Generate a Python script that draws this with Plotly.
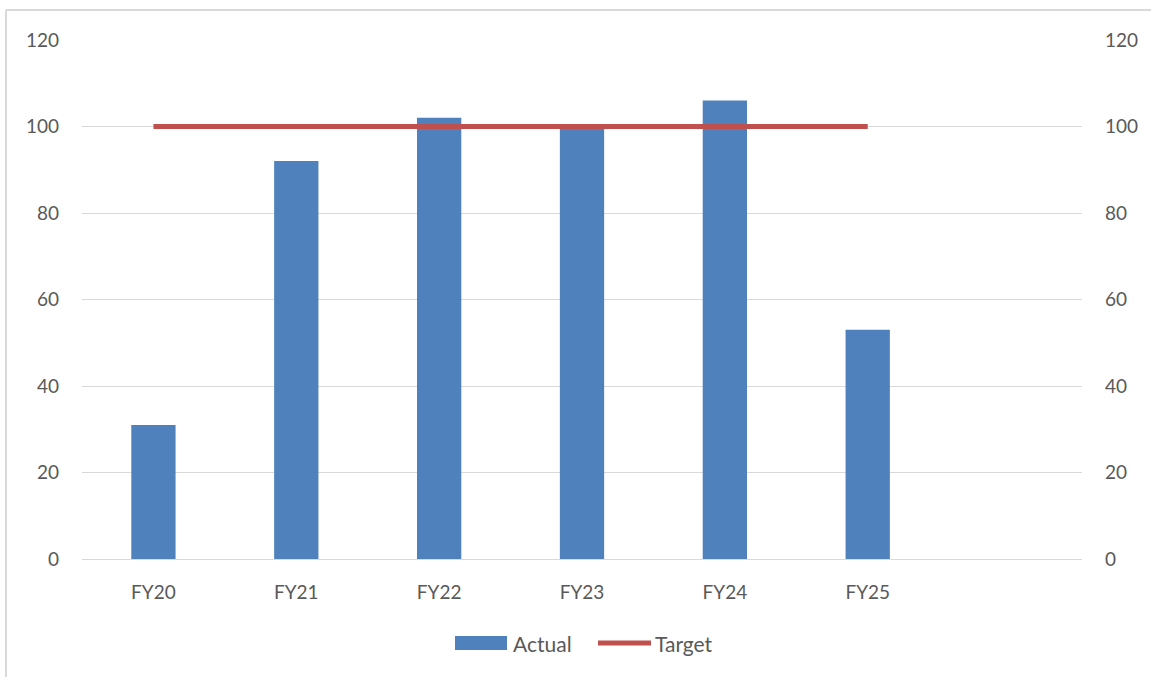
import plotly.graph_objects as go

categories = ["FY20", "FY21", "FY22", "FY23", "FY24", "FY25", " "]
actual = [31, 92, 102, 100, 106, 53]
target = [100, 100, 100, 100, 100, 100]
y_ticks = [0, 20, 40, 60, 80, 100, 120]
series_names = ["Actual", "Target"]

FONT = "Lato, 'Open Sans', sans-serif"
GREY = "#595959"
BAR_C = "#4F81BD"
LINE_C = "#C0504D"
FS = 19
LEG_FS = 21

fig = go.Figure()
fig.add_trace(go.Bar(
    x=categories[:len(actual)], y=actual, name=series_names[0],
    marker=dict(color=BAR_C, line=dict(width=0)),
    width=0.31, showlegend=False,
))
fig.add_trace(go.Scatter(
    x=categories[:len(target)], y=target, name=series_names[1], yaxis="y2",
    mode="lines", line=dict(color=LINE_C, width=5), showlegend=False,
))

axis_common = dict(
    range=[0, 120], tickvals=y_ticks, ticks="", showline=False,
    tickfont=dict(family=FONT, size=FS, color=GREY),
    zeroline=False, fixedrange=True,
)

# legend drawn manually (paper coords: plot area 82..1082 x, 40..559 y)
def px(x):
    return (x - 82) / 1000.0

def py(y):
    return (559 - y) / 519.0

legend_y = py(643)
shapes = [
    dict(type="line", xref="paper", yref="paper", x0=px(6), x1=px(1160),
         y0=py(10), y1=py(10), line=dict(color="#D9D9D9", width=2)),
    dict(type="line", xref="paper", yref="paper", x0=px(6), x1=px(6),
         y0=py(10), y1=py(700), line=dict(color="#D9D9D9", width=2)),
    dict(type="rect", xref="paper", yref="paper", x0=px(455), x1=px(507),
         y0=py(650), y1=py(636), fillcolor=BAR_C, line=dict(width=0)),
    dict(type="line", xref="paper", yref="paper", x0=px(598), x1=px(651),
         y0=legend_y, y1=legend_y, line=dict(color=LINE_C, width=5)),
]
annotations = [
    dict(xref="paper", yref="paper", x=px(511), y=legend_y, xanchor="left",
         yanchor="middle", text=series_names[0], showarrow=False,
         font=dict(family=FONT, size=LEG_FS, color=GREY)),
    dict(xref="paper", yref="paper", x=px(653), y=legend_y, xanchor="left",
         yanchor="middle", text=series_names[1], showarrow=False,
         font=dict(family=FONT, size=LEG_FS, color=GREY)),
]

fig.update_layout(
    width=1151, height=677,
    margin=dict(l=82, r=69, t=40, b=118),
    paper_bgcolor="white", plot_bgcolor="white",
    font=dict(family=FONT, size=FS, color=GREY),
    xaxis=dict(
        type="category", categoryorder="array", categoryarray=categories,
        range=[-0.5, 6.5], tickvals=categories[:6], showgrid=False,
        showline=True, linecolor="#D9D9D9", linewidth=1, ticks="",
        tickfont=dict(family=FONT, size=FS, color=GREY),
        ticklabelstandoff=16, fixedrange=True,
    ),
    yaxis=dict(**axis_common, showgrid=True, gridcolor="#D9D9D9", gridwidth=1,
               ticklabelstandoff=22),
    yaxis2=dict(**axis_common, overlaying="y", side="right", showgrid=False,
                ticklabelstandoff=22),
    showlegend=False,
    shapes=shapes,
    annotations=annotations,
)

fig.write_html("out.html", config={"displayModeBar": False},
               post_script="document.body.style.margin='0';document.body.style.padding='0';")
